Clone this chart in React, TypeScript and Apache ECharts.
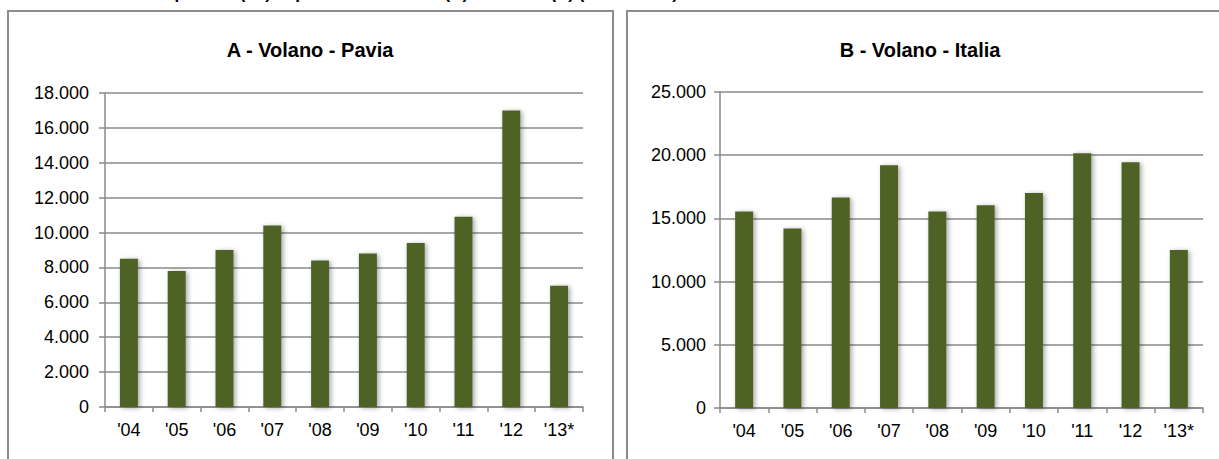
import React, { useEffect, useRef } from "react";
import * as echarts from "echarts";

const years = ["'04", "'05", "'06", "'07", "'08", "'09", "'10", "'11", "'12", "'13*"];
const pavia = [8500, 7800, 9000, 10400, 8400, 8800, 9400, 10900, 17000, 6950];
const italia = [15550, 14200, 16650, 19200, 15550, 16050, 17000, 20150, 19450, 12500];
const titleA = "A - Volano - Pavia";
const titleB = "B - Volano - Italia";
const topCaption = "Grafico 5 - Volano: superficie (ha) in provincia di Pavia (A) e in Italia (B) (2004-2013*)";

const FONT = "'Liberation Sans', Arial, sans-serif";
const BAR = "#4f6228";
const GRID = "#8a8a8a";

function fmt(v: number): string {
  return String(Math.round(v)).replace(/\B(?=(\d{3})+(?!\d))/g, ".");
}

export default function App() {
  const ref = useRef<HTMLDivElement>(null);
  useEffect(() => {
    if (!ref.current) return;
    const chart = echarts.init(ref.current, null, { renderer: "svg" });
    const yAxisBase = (max: number, interval: number, idx: number, margin: number) => ({
      type: "value",
      gridIndex: idx,
      min: 0,
      max,
      interval,
      axisLine: { show: true, lineStyle: { color: GRID, width: 1.5 } },
      axisTick: { show: true, length: 6, lineStyle: { color: GRID, width: 1.5 } },
      splitLine: { show: true, lineStyle: { color: GRID, width: 1.5 } },
      axisLabel: { color: "#000", fontFamily: FONT, fontSize: 18, margin, formatter: (v: number) => fmt(v) },
    });
    const xAxisBase = (idx: number) => ({
      type: "category",
      gridIndex: idx,
      data: years,
      axisLine: { show: true, lineStyle: { color: GRID, width: 1.5 } },
      axisTick: { show: true, length: 5, alignWithLabel: false, lineStyle: { color: GRID, width: 1.5 } },
      axisLabel: { color: "#000", fontFamily: FONT, fontSize: 18, margin: 14, interval: 0 },
    });
    const barStyle = {
      color: BAR,
      shadowColor: "rgba(0,0,0,0.35)",
      shadowBlur: 5,
      shadowOffsetX: 2,
      shadowOffsetY: 1,
    };
    chart.setOption({
      animation: false,
      backgroundColor: "#fff",
      grid: [
        { left: 105, top: 93, width: 478, height: 314 },
        { left: 720, top: 92, width: 483, height: 316 },
      ],
      xAxis: [xAxisBase(0), xAxisBase(1)],
      yAxis: [yAxisBase(18000, 2000, 0, 16), yAxisBase(25000, 5000, 1, 14)],
      series: [
        { type: "bar", xAxisIndex: 0, yAxisIndex: 0, data: pavia, barWidth: 18, itemStyle: barStyle },
        { type: "bar", xAxisIndex: 1, yAxisIndex: 1, data: italia, barWidth: 18, itemStyle: barStyle },
      ],
      graphic: [
        {
          type: "text",
          left: 0,
          top: -15,
          style: { text: topCaption, font: `bold 17px ${FONT}`, fill: "#000" },
        },
        {
          type: "rect",
          shape: { x: 8, y: 11, width: 605, height: 470 },
          style: { fill: "none", stroke: "#8c8c8c", lineWidth: 2 },
          z: -1,
        },
        {
          type: "rect",
          shape: { x: 627, y: 11, width: 600, height: 470 },
          style: { fill: "none", stroke: "#8c8c8c", lineWidth: 2 },
          z: -1,
        },
        {
          type: "text",
          x: 310,
          y: 50,
          style: { text: titleA, font: `bold 20px ${FONT}`, fill: "#000", align: "center", verticalAlign: "middle" },
        },
        {
          type: "text",
          x: 920,
          y: 50,
          style: { text: titleB, font: `bold 20px ${FONT}`, fill: "#000", align: "center", verticalAlign: "middle" },
        },
      ],
    });
    return () => chart.dispose();
  }, []);
  return <div ref={ref} style={{ position: "fixed", left: 0, top: 0, width: 1219, height: 459 }} />;
}
